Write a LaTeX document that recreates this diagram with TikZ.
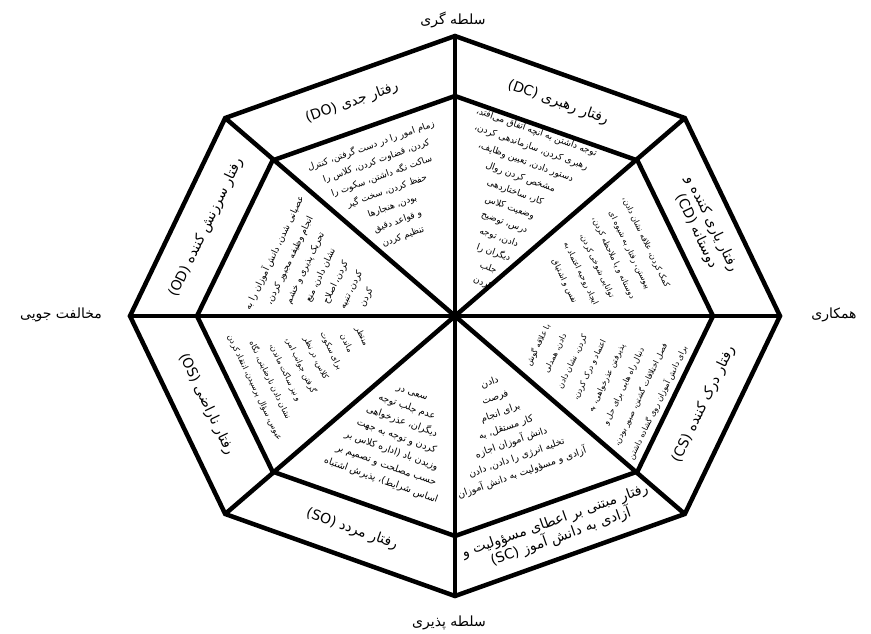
\documentclass[tikz,border=0pt]{standalone}
\usepackage{fontspec}
\usepackage{tikz}
\usetikzlibrary{calc}
\newfontfamily\arabicfont[Script=Arabic]{DejaVu Sans}
\TeXXeTstate=1
\newcommand{\faline}[1]{\beginR#1\endR}   % 一行从右到左的文字
\newcommand{\enpart}[1]{\beginL#1\endL{}} % 行内的拉丁字母部分
\tikzset{
    frame_style/.style={
        draw=black,           % 线条颜色
        line width=4.5pt,     % 粗线
        line join=miter       % 尖角连接
    },
    ring_label/.style={
        font=\arabicfont\fontsize{14}{17}\selectfont, % 外环标题字体
        align=center,
        inner sep=0pt
    },
    inner_text/.style 2 args={
        font=\arabicfont\fontsize{#1}{#2}\selectfont, % 内部说明文字 (字号, 行距)
        align=center,
        inner sep=0pt
    },
    pole_label/.style={
        font=\arabicfont\fontsize{14}{16}\selectfont, % 四个方向的标签
        inner sep=0pt
    }
}

\begin{document}
\begin{tikzpicture}[x=1pt,y=1pt]
            \useasboundingbox (-455,-317) rectangle (416,316);
            % 1. 定义八边形的顶点 (外环 o, 内环 i)
            \coordinate (c) at (0,0);
            \foreach \k in {0,...,7}{
                \coordinate (o\k) at ({325*cos(45*\k)},{280*sin(45*\k)});
                \coordinate (i\k) at ({258*cos(45*\k)},{220*sin(45*\k)});
            }

            % 2. 绘制外环、内环和八条分隔线
            \draw[frame_style] (o0) -- (o1) -- (o2) -- (o3) -- (o4) -- (o5) -- (o6) -- (o7) -- cycle;
            \draw[frame_style] (i0) -- (i1) -- (i2) -- (i3) -- (i4) -- (i5) -- (i6) -- (i7) -- cycle;
            \foreach \k in {0,...,7}
                \draw[frame_style] (c) -- (o\k);

            % 3. 外环上的行为标题
            \node[ring_label, rotate=19.6] (do_label) at ($0.25*(o2)+0.25*(o3)+0.25*(i2)+0.25*(i3)$) {\faline{رفتار جدی \enpart{(DO)}}};
            \node[ring_label, rotate=-19.6] (dc_label) at ($0.25*(o1)+0.25*(o2)+0.25*(i1)+0.25*(i2)$) {\faline{رفتار رهبری \enpart{(DC)}}};
            \node[ring_label, rotate=-64.3] (cd_label) at ($0.25*(o0)+0.25*(o1)+0.25*(i0)+0.25*(i1)$) {\faline{رفتار یاری کننده و}\\\faline{دوستانه \enpart{(CD)}}};
            \node[ring_label, rotate=64.3] (cs_label) at ($0.25*(o7)+0.25*(o0)+0.25*(i7)+0.25*(i0)$) {\faline{رفتار درک کننده \enpart{(CS)}}};
            \node[ring_label, rotate=19.6] (sc_label) at ($0.25*(o6)+0.25*(o7)+0.25*(i6)+0.25*(i7)$) {\faline{رفتار مبتنی بر اعطای مسؤولیت و}\\\faline{آزادی به دانش آموز \enpart{(SC)}}};
            \node[ring_label, rotate=-19.6] (so_label) at ($0.25*(o5)+0.25*(o6)+0.25*(i5)+0.25*(i6)$) {\faline{رفتار مردد \enpart{(SO)}}};
            \node[ring_label, rotate=-64.3] (os_label) at ($0.25*(o4)+0.25*(o5)+0.25*(i4)+0.25*(i5)$) {\faline{رفتار ناراضی \enpart{(OS)}}};
            \node[ring_label, rotate=64.3] (od_label) at ($0.25*(o3)+0.25*(o4)+0.25*(i3)+0.25*(i4)$) {\faline{رفتار سرزنش کننده \enpart{(OD)}}};

            % 4. 三角形内的说明文字
            \node[inner_text={9}{16}, rotate=19.6] (do_text) at (-68,125) {\faline{زمام امور را در دست گرفتن، کنترل}\\\faline{کردن، قضاوت کردن، کلاس را}\\\faline{ساکت نگه داشتن، سکوت را}\\\faline{حفظ کردن، سخت گیر}\\\faline{بودن، هنجارها}\\\faline{و قواعد دقیق}\\\faline{تنظیم کردن}};
            \node[inner_text={9}{16}, rotate=-19.6] (dc_text) at (55,109) {\faline{توجه داشتن به آنچه اتفاق می‌افتد،}\\\faline{رهبری کردن، سازماندهی کردن،}\\\faline{دستور دادن، تعیین وظایف،}\\\faline{مشخص کردن روال}\\\faline{کار، ساختاردهی}\\\faline{وضعیت کلاس}\\\faline{درس، توضیح}\\\faline{دادن، توجه}\\\faline{دیگران را}\\\faline{جلب}\\\faline{کردن}};
            \node[inner_text={8}{18}, rotate=-64.3] (cd_text) at (150,54) {\faline{کمک کردن، علاقه نشان دادن،}\\\faline{پیوستن، رفتار به شیوه ای}\\\faline{دوستانه و یا ملاحظه کردن،}\\\faline{توانایی شوخی کردن،}\\\faline{ایجاد روحیه اعتماد به}\\\faline{نفس و اشتیاق}};
            \node[inner_text={8}{19}, rotate=64.3] (cs_text) at (143,-58) {\faline{با علاقه گوش}\\\faline{دادن، همدلی}\\\faline{کردن، نشان دادن}\\\faline{اعتماد و درک کردن،}\\\faline{پذیرفتن عذرخواهی، به}\\\faline{دنبال راه هایی برای حل و}\\\faline{فصل اختلافات گشتن، صبور بودن،}\\\faline{برای دانش آموزان روی گشاده داشتن}};
            \node[inner_text={9.5}{16}, rotate=19.6] (sc_text) at (51,-112) {\faline{دادن}\\\faline{فرصت}\\\faline{برای انجام}\\\faline{کار مستقل، به}\\\faline{دانش آموزان اجازه}\\\faline{تخلیه انرژی را دادن، دادن}\\\faline{آزادی و مسؤولیت به دانش آموزان}};
            \node[inner_text={9.5}{15.5}, rotate=-19.6] (so_text) at (-59,-122) {\faline{سعی در}\\\faline{عدم جلب توجه}\\\faline{دیگران، عذرخواهی}\\\faline{کردن و توجه به جهت}\\\faline{وزیدن باد (اداره کلاس بر}\\\faline{حسب مصلحت و تصمیم بر}\\\faline{اساس شرایط)، پذیرش اشتباه}};
            \node[inner_text={8}{17}, rotate=-64.3] (os_text) at (-147,-46) {\faline{منتظر}\\\faline{ماندن}\\\faline{برای سکوت}\\\faline{کلاس، در نظر}\\\faline{گرفتن جوانب امر،}\\\faline{و نیز ساکت ماندن،}\\\faline{نشان دادن نارضایتی، نگاه}\\\faline{عبوس، سؤال پرسیدن، انتقاد کردن}};
            \node[inner_text={9}{17}, rotate=64.3] (od_text) at (-135,41) {\faline{عصبانی شدن، دانش آموزان را به}\\\faline{انجام وظیفه مجبور کردن،}\\\faline{تحریک پذیری و خشم}\\\faline{نشان دادن، منع}\\\faline{کردن، اصلاح}\\\faline{کردن، تنبیه}\\\faline{کردن}};

            % 5. 四个方向的标签
            \node[pole_label] (top_pole) at (-2,296) {\faline{سلطه گری}};
            \node[pole_label] (bottom_pole) at (-6,-307) {\faline{سلطه پذیری}};
            \node[pole_label] (left_pole) at (-394,1) {\faline{مخالفت جویی}};
            \node[pole_label] (right_pole) at (379,1) {\faline{همکاری}};
        \end{tikzpicture}
\end{document}
